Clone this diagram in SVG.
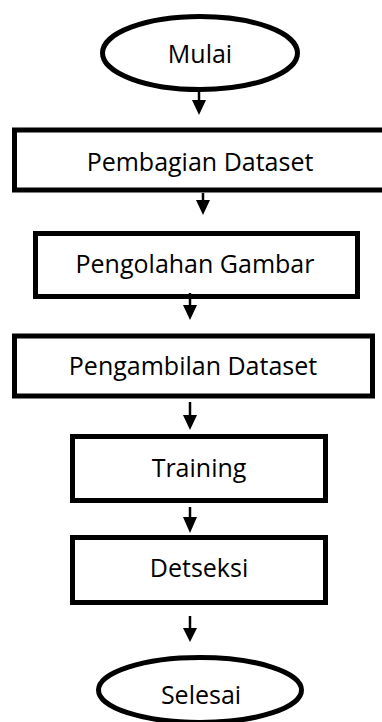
<svg xmlns="http://www.w3.org/2000/svg" width="382" height="722" viewBox="0 0 382 722">
<style>
.shape{fill:#fff;stroke:#000;stroke-width:5}
.lbl{font-family:"Open Sans","Liberation Sans",sans-serif;font-size:25px;fill:#000;text-anchor:middle}
.edge{stroke:#000;stroke-width:2.5;fill:none}
.head{fill:#000}
</style>
<rect width="382" height="722" fill="#fff"/>
<g id="n-mulai">
<ellipse class="shape" cx="200" cy="53" rx="97.5" ry="36.5"/>
<text class="lbl" x="200" y="63">Mulai</text>
</g>
<g id="n-pembagian">
<rect class="shape" x="14.5" y="130" width="380" height="60"/>
<text class="lbl" x="200" y="171">Pembagian Dataset</text>
</g>
<g id="n-pengolahan">
<rect class="shape" x="35.5" y="233.5" width="322" height="63"/>
<text class="lbl" x="195" y="273">Pengolahan Gambar</text>
</g>
<g id="n-pengambilan">
<rect class="shape" x="14.5" y="336" width="358" height="60"/>
<text class="lbl" x="193" y="375">Pengambilan Dataset</text>
</g>
<g id="n-training">
<rect class="shape" x="72.5" y="436.5" width="253" height="64"/>
<text class="lbl" x="199" y="477">Training</text>
</g>
<g id="n-detseksi">
<rect class="shape" x="72.5" y="537.5" width="253" height="65"/>
<text class="lbl" x="199" y="577">Detseksi</text>
</g>
<g id="n-selesai">
<ellipse class="shape" cx="200" cy="690" rx="101.5" ry="32.5"/>
<text class="lbl" x="201" y="704">Selesai</text>
</g>
<g id="connectors">
<line class="edge" x1="199" y1="92" x2="199" y2="102"/>
<polygon class="head" points="192,100 206,100 199,115"/>
<line class="edge" x1="203" y1="193" x2="203" y2="202"/>
<polygon class="head" points="196,200 210,200 203,215"/>
<line class="edge" x1="190" y1="293" x2="190" y2="307"/>
<polygon class="head" points="183,305 197,305 190,320"/>
<line class="edge" x1="190" y1="402" x2="190" y2="417"/>
<polygon class="head" points="183,415 197,415 190,430"/>
<line class="edge" x1="190" y1="507" x2="190" y2="519"/>
<polygon class="head" points="183,517 197,517 190,533"/>
<line class="edge" x1="190" y1="616" x2="190" y2="630"/>
<polygon class="head" points="183,628 197,628 190,642"/>
</g>
</svg>
